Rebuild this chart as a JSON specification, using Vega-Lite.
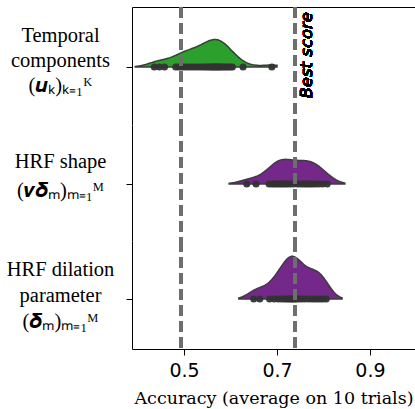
{
  "$schema": "https://vega.github.io/schema/vega-lite/v6.json",
  "padding": {"left": 6, "top": 5, "right": 2, "bottom": 1},
  "spacing": 0,
  "bounds": "flush",
  "config": {"view": {"stroke": null}, "axis": {"grid": false}},
  "datasets": {
    "pts": [
      {"cond": "temporal", "acc": 0.436}, {"cond": "temporal", "acc": 0.447}, {"cond": "temporal", "acc": 0.458},
      {"cond": "temporal", "acc": 0.482}, {"cond": "temporal", "acc": 0.488}, {"cond": "temporal", "acc": 0.494},
      {"cond": "temporal", "acc": 0.500}, {"cond": "temporal", "acc": 0.506}, {"cond": "temporal", "acc": 0.512},
      {"cond": "temporal", "acc": 0.518}, {"cond": "temporal", "acc": 0.524}, {"cond": "temporal", "acc": 0.530},
      {"cond": "temporal", "acc": 0.536}, {"cond": "temporal", "acc": 0.541}, {"cond": "temporal", "acc": 0.546},
      {"cond": "temporal", "acc": 0.550}, {"cond": "temporal", "acc": 0.554}, {"cond": "temporal", "acc": 0.558},
      {"cond": "temporal", "acc": 0.561}, {"cond": "temporal", "acc": 0.564}, {"cond": "temporal", "acc": 0.567},
      {"cond": "temporal", "acc": 0.570}, {"cond": "temporal", "acc": 0.573}, {"cond": "temporal", "acc": 0.576},
      {"cond": "temporal", "acc": 0.579}, {"cond": "temporal", "acc": 0.583}, {"cond": "temporal", "acc": 0.587},
      {"cond": "temporal", "acc": 0.591}, {"cond": "temporal", "acc": 0.595}, {"cond": "temporal", "acc": 0.600},
      {"cond": "temporal", "acc": 0.604}, {"cond": "temporal", "acc": 0.627}, {"cond": "temporal", "acc": 0.689},
      {"cond": "shape", "acc": 0.635}, {"cond": "shape", "acc": 0.655}, {"cond": "shape", "acc": 0.683},
      {"cond": "shape", "acc": 0.689}, {"cond": "shape", "acc": 0.694}, {"cond": "shape", "acc": 0.699},
      {"cond": "shape", "acc": 0.704}, {"cond": "shape", "acc": 0.709}, {"cond": "shape", "acc": 0.713},
      {"cond": "shape", "acc": 0.718}, {"cond": "shape", "acc": 0.723}, {"cond": "shape", "acc": 0.729},
      {"cond": "shape", "acc": 0.736}, {"cond": "shape", "acc": 0.744}, {"cond": "shape", "acc": 0.751},
      {"cond": "shape", "acc": 0.757}, {"cond": "shape", "acc": 0.762}, {"cond": "shape", "acc": 0.767},
      {"cond": "shape", "acc": 0.772}, {"cond": "shape", "acc": 0.777}, {"cond": "shape", "acc": 0.783},
      {"cond": "shape", "acc": 0.790}, {"cond": "shape", "acc": 0.798}, {"cond": "shape", "acc": 0.808},
      {"cond": "dilation", "acc": 0.650}, {"cond": "dilation", "acc": 0.663}, {"cond": "dilation", "acc": 0.684},
      {"cond": "dilation", "acc": 0.694}, {"cond": "dilation", "acc": 0.703}, {"cond": "dilation", "acc": 0.710},
      {"cond": "dilation", "acc": 0.716}, {"cond": "dilation", "acc": 0.721}, {"cond": "dilation", "acc": 0.725},
      {"cond": "dilation", "acc": 0.729}, {"cond": "dilation", "acc": 0.732}, {"cond": "dilation", "acc": 0.735},
      {"cond": "dilation", "acc": 0.738}, {"cond": "dilation", "acc": 0.742}, {"cond": "dilation", "acc": 0.747},
      {"cond": "dilation", "acc": 0.753}, {"cond": "dilation", "acc": 0.760}, {"cond": "dilation", "acc": 0.768},
      {"cond": "dilation", "acc": 0.775}, {"cond": "dilation", "acc": 0.781}, {"cond": "dilation", "acc": 0.787},
      {"cond": "dilation", "acc": 0.793}, {"cond": "dilation", "acc": 0.799}, {"cond": "dilation", "acc": 0.806}
    ]
  },
  "vconcat": [
    {
      "width": 283, "height": 118,
      "data": {"name": "pts"},
      "layer": [
        {
          "transform": [{"filter": "datum.cond === 'temporal'"}, {"density": "acc", "bandwidth": 0.022, "extent": [0.395, 0.70], "steps": 200}],
          "mark": {"type": "area", "fill": "#2ca02c", "stroke": "#3c3c3c", "strokeWidth": 1.5, "fillOpacity": 1},
          "encoding": {
            "x": {"field": "value", "type": "quantitative", "scale": {"domain": [0.388, 0.997], "nice": false, "zero": false},
                  "axis": {"orient": "top", "labels": false, "ticks": false, "title": null, "domainColor": "black", "domainWidth": 1}},
            "y": {"field": "density", "type": "quantitative", "scale": {"domain": [-16.57, 17.14], "nice": false, "zero": false},
                  "axis": {"orient": "left", "values": [0], "tickSize": 6, "tickColor": "black", "domainColor": "black", "title": null,
                           "labelExpr": "['Temporal', 'components', '(𝒖ₖ)ₖ₌₁ᴷ']", "labelAlign": "center", "labelBaseline": "middle",
                           "labelPadding": 66, "labelOffset": -31, "labelFont": "Liberation Serif", "labelFontSize": 20.5, "labelLineHeight": 25,
                           "labelColor": "black", "labelFlush": false, "labelLimit": 200}},
            "y2": {"datum": 0}
          }
        },
        {
          "transform": [{"filter": "datum.cond === 'temporal'"}],
          "mark": {"type": "circle", "size": 50, "color": "#333333", "opacity": 0.95},
          "encoding": {
            "x": {"field": "acc", "type": "quantitative", "axis": null},
            "y": {"datum": 0, "type": "quantitative", "axis": {"orient": "right", "labels": false, "ticks": false, "title": null, "domainColor": "black"}}
          }
        },
        {"mark": {"type": "rule", "strokeDash": [11, 5], "color": "#6e6e6e", "strokeWidth": 3}, "encoding": {"x": {"datum": 0.493, "type": "quantitative", "axis": null}}},
        {"mark": {"type": "rule", "strokeDash": [11, 5], "color": "#6e6e6e", "strokeWidth": 3}, "encoding": {"x": {"datum": 0.739, "type": "quantitative", "axis": null}}},
        {
          "mark": {"type": "text", "text": "Best score", "angle": 270, "align": "right", "baseline": "top", "dx": -5, "dy": 4,
                   "font": "DejaVu Sans", "fontStyle": "italic", "fontSize": 16.5, "color": "black"},
          "encoding": {"x": {"datum": 0.739, "type": "quantitative", "axis": null}, "y": {"datum": 17.14, "type": "quantitative", "axis": null}}
        }
      ],
      "resolve": {"axis": {"x": "independent", "y": "independent"}}
    },
    {
      "width": 283, "height": 116,
      "data": {"name": "pts"},
      "layer": [
        {
          "transform": [{"filter": "datum.cond === 'shape'"}, {"density": "acc", "bandwidth": 0.022, "extent": [0.597, 0.846], "steps": 200}],
          "mark": {"type": "area", "fill": "#74288a", "stroke": "#3c3c3c", "strokeWidth": 1.5, "fillOpacity": 1},
          "encoding": {
            "x": {"field": "value", "type": "quantitative", "scale": {"domain": [0.388, 0.997], "nice": false, "zero": false}, "axis": null},
            "y": {"field": "density", "type": "quantitative", "scale": {"domain": [-16.76, 17.35], "nice": false, "zero": false},
                  "axis": {"orient": "left", "values": [0], "tickSize": 6, "tickColor": "black", "domainColor": "black", "title": null,
                           "labelExpr": "['HRF shape', '(𝒗𝜹ₘ)ₘ₌₁ᴹ']", "labelAlign": "center", "labelBaseline": "middle",
                           "labelPadding": 66, "labelOffset": -23, "labelFont": "Liberation Serif", "labelFontSize": 20.5, "labelLineHeight": 29,
                           "labelColor": "black", "labelFlush": false, "labelLimit": 200}},
            "y2": {"datum": 0}
          }
        },
        {
          "transform": [{"filter": "datum.cond === 'shape'"}],
          "mark": {"type": "circle", "size": 50, "color": "#333333", "opacity": 0.95},
          "encoding": {
            "x": {"field": "acc", "type": "quantitative", "axis": null},
            "y": {"datum": 0, "type": "quantitative", "axis": {"orient": "right", "labels": false, "ticks": false, "title": null, "domainColor": "black"}}
          }
        },
        {"mark": {"type": "rule", "strokeDash": [11, 5], "color": "#6e6e6e", "strokeWidth": 3}, "encoding": {"x": {"datum": 0.493, "type": "quantitative", "axis": null}}},
        {"mark": {"type": "rule", "strokeDash": [11, 5], "color": "#6e6e6e", "strokeWidth": 3}, "encoding": {"x": {"datum": 0.739, "type": "quantitative", "axis": null}}}
      ],
      "resolve": {"axis": {"x": "independent", "y": "independent"}}
    },
    {
      "width": 283, "height": 108,
      "data": {"name": "pts"},
      "layer": [
        {
          "transform": [{"filter": "datum.cond === 'dilation'"}, {"density": "acc", "bandwidth": 0.018, "extent": [0.618, 0.84], "steps": 200}],
          "mark": {"type": "area", "fill": "#74288a", "stroke": "#3c3c3c", "strokeWidth": 1.5, "fillOpacity": 1},
          "encoding": {
            "x": {"field": "value", "type": "quantitative", "scale": {"domain": [0.388, 0.997], "nice": false, "zero": false},
                  "axis": {"orient": "bottom", "values": [0.5, 0.7, 0.9], "format": ".1f", "tickSize": 6, "tickColor": "black", "domainColor": "black",
                           "labelFont": "DejaVu Sans", "labelFontSize": 19, "labelColor": "black", "labelPadding": 6, "labelFlush": false,
                           "title": "Accuracy (average on 10 trials)", "titleFont": "DejaVu Serif", "titleFontSize": 17.5, "titleFontWeight": "normal",
                           "titleColor": "black", "titlePadding": 9}},
            "y": {"field": "density", "type": "quantitative", "scale": {"domain": [-10.64, 12.34], "nice": false, "zero": false},
                  "axis": {"orient": "left", "values": [0], "tickSize": 6, "tickColor": "black", "domainColor": "black", "title": null,
                           "labelExpr": "['HRF dilation', 'parameter', '(𝜹ₘ)ₘ₌₁ᴹ']", "labelAlign": "center", "labelBaseline": "middle",
                           "labelPadding": 66, "labelOffset": -29, "labelFont": "Liberation Serif", "labelFontSize": 20.5, "labelLineHeight": 26,
                           "labelColor": "black", "labelFlush": false, "labelLimit": 200}},
            "y2": {"datum": 0}
          }
        },
        {
          "transform": [{"filter": "datum.cond === 'dilation'"}],
          "mark": {"type": "circle", "size": 50, "color": "#333333", "opacity": 0.95},
          "encoding": {
            "x": {"field": "acc", "type": "quantitative", "axis": null},
            "y": {"datum": 0, "type": "quantitative", "axis": {"orient": "right", "labels": false, "ticks": false, "title": null, "domainColor": "black"}}
          }
        },
        {"mark": {"type": "rule", "strokeDash": [11, 5], "color": "#6e6e6e", "strokeWidth": 3}, "encoding": {"x": {"datum": 0.493, "type": "quantitative", "axis": null}}},
        {"mark": {"type": "rule", "strokeDash": [11, 5], "color": "#6e6e6e", "strokeWidth": 3}, "encoding": {"x": {"datum": 0.739, "type": "quantitative", "axis": null}}}
      ],
      "resolve": {"axis": {"x": "independent", "y": "independent"}}
    }
  ]
}
